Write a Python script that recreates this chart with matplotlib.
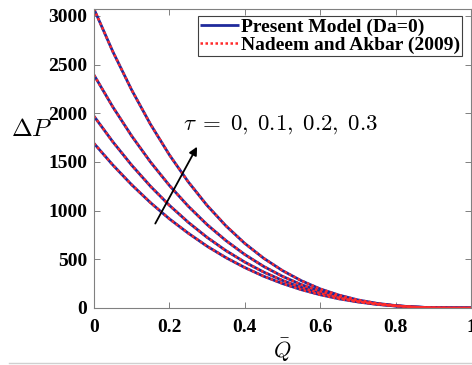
import matplotlib
matplotlib.use("Agg")
import matplotlib.pyplot as plt
from matplotlib.lines import Line2D

# flow rate Q-bar
Q = [0, 0.05, 0.1, 0.15, 0.2, 0.25, 0.3, 0.35, 0.4, 0.45, 0.5,
     0.55, 0.6, 0.65, 0.7, 0.75, 0.8, 0.85, 0.9, 0.95, 1.0]

# pressure rise, tau = 0, 0.1, 0.2, 0.3
dP_tau0 = [1690, 1468, 1265, 1081, 915, 768, 634, 517, 415, 326, 251,
           188, 136, 94, 62, 37, 20, 9, 3, 0.4, 0]
dP_tau1 = [1969, 1706, 1466, 1249, 1054, 880, 725, 589, 471, 369, 283,
           211, 151, 104, 68, 41, 22, 10, 3, 0.5, 0]
dP_tau2 = [2392, 2064, 1766, 1498, 1258, 1045, 856, 692, 549, 427, 325,
           240, 171, 116, 75, 44, 23, 10, 3, 0.4, 0]
dP_tau3 = [3070, 2632, 2238, 1885, 1572, 1295, 1053, 843, 663, 511, 384,
           280, 196, 132, 83, 48, 25, 10, 3, 0.4, 0]

curves = [dP_tau0, dP_tau1, dP_tau2, dP_tau3]

xticks = [0, 0.2, 0.4, 0.6, 0.8, 1]
xticklabels = ["0", "0.2", "0.4", "0.6", "0.8", "1"]
yticks = [0, 500, 1000, 1500, 2000, 2500, 3000]

plt.rcParams['font.family'] = ['Liberation Serif', 'DejaVu Serif']
plt.rcParams['font.weight'] = 'bold'
plt.rcParams['mathtext.fontset'] = 'cm'

fig = plt.figure(figsize=(4.72, 3.65), dpi=100)
ax = fig.add_axes([94/472, 1 - 308/365, 377/472, 299/365])

for i, dP in enumerate(curves):
    ax.plot(Q, dP, color='#1f2a9c', lw=2.0, solid_capstyle='butt',
            label='Present Model (Da=0)' if i == 0 else None)
for i, dP in enumerate(curves):
    ax.plot(Q, dP, color='#ff2a2a', lw=1.8, ls=(0, (1, 1)),
            label='Nadeem and Akbar (2009)' if i == 0 else None)

ax.set_xlim(0, 1)
ax.set_ylim(0, 3070)
ax.set_xticks(xticks)
ax.set_xticklabels(xticklabels)
ax.set_yticks(yticks)

for sp in ax.spines.values():
    sp.set_color('#808080')
    sp.set_linewidth(0.8)
ax.tick_params(direction='in', length=4, width=0.7, color='#808080',
               top=True, right=True, labelsize=14, labelcolor='black')
ax.tick_params(axis='x', pad=8)
ax.tick_params(axis='y', pad=5)

ax.set_xlabel(r'$\bar{Q}$', fontsize=16, labelpad=0)
ax.set_ylabel(r'$\Delta P$', fontsize=18, rotation=0, ha='center', va='center')
ax.yaxis.set_label_coords(-0.165, 0.595)

ax.annotate('', xy=(0.277, 1681), xytext=(0.159, 842),
            arrowprops=dict(arrowstyle='-|>', color='black', lw=1.3,
                            mutation_scale=12))
ax.text(0.236, 1880, r'$\tau\;=\;0,\;0.1,\;0.2,\;0.3$', fontsize=16.5,
        ha='left', va='center')

leg = ax.legend(loc='upper right', bbox_to_anchor=(0.975, 0.975),
                fontsize=14, handlelength=2.0, handletextpad=0.1,
                borderpad=0.1, labelspacing=0.0, borderaxespad=0,
                fancybox=False, framealpha=1)
leg.get_frame().set_edgecolor('#404040')
leg.get_frame().set_linewidth(0.8)
for t in leg.get_texts():
    t.set_fontweight('bold')

fig.add_artist(Line2D([0.02, 1.0], [0.006, 0.006], color='#d0d0d0', lw=1))

fig.savefig('out.png', dpi=100)
